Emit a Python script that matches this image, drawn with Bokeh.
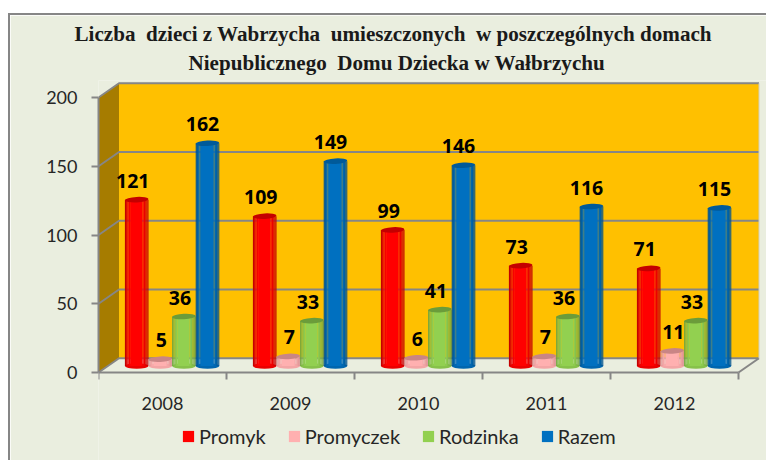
from bokeh.plotting import figure
from bokeh.embed import file_html
from bokeh.resources import INLINE
from bokeh.models import FixedTicker, Legend, LegendItem, Title
from bokeh.core.properties import value

years = ["2008", "2009", "2010", "2011", "2012"]
series_names = ["Promyk", "Promyczek", "Rodzinka", "Razem"]
promyk = [121, 109, 99, 73, 71]
promyczek = [5, 7, 6, 7, 11]
rodzinka = [36, 33, 41, 36, 33]
razem = [162, 149, 146, 116, 115]
y_ticks = [0, 50, 100, 150, 200]
title_lines = ["Liczba \u00a0dzieci z Wabrzycha \u00a0umieszczonych \u00a0w poszczególnych domach",
               "Niepublicznego \u00a0Domu Dziecka w Wałbrzychu"]

BG = "#EAEEDF"
GRAY = "#868686"
WALL = "#FFC000"
SIDE = "#A67C00"
body = ["#FF0000", "#FFB0B0", "#92D050", "#0070C0"]
edge = ["#B80000", "#D89090", "#6E9E3C", "#004F88"]
cap = ["#C40000", "#C98585", "#6B9C3A", "#005A9A"]
lab_shift = [-4, 1, -4, -5]

PX_X = 128.0     # pixels per category
PX_Y = 1.375     # pixels per unit
FRAME_W = 670
FRAME_H = 382
BELOW = 90 / PX_Y  # room under the zero line, kept inside the frame
DX = 20.5 / PX_X   # depth of the 3D box
DY = 14.2 / PX_Y
BASE = 4.7       # cylinders stand mid-floor
START = 26.4 / PX_X
BW = 23.6 / PX_X
CAP_H = 5.5 / PX_Y

p = figure(width=758, height=447, output_backend="svg", toolbar_location=None,
           x_range=(0, FRAME_W / PX_X), y_range=(-BELOW, FRAME_H / PX_Y - BELOW),
           min_border_left=88, min_border_right=0, min_border_top=65, min_border_bottom=0,
           background_fill_color=BG, border_fill_color=BG, outline_line_color=None,
           margin=(13, 0, 0, 8), title=None,
           styles={"border-top": f"2px solid {GRAY}", "border-left": f"2px solid {GRAY}"})
p.grid.visible = False

for line, off, st in zip(reversed(title_lines), [90, -24], [11, -4]):
    t = Title(text=line, align="left", offset=off, text_font="Liberation Serif",
              text_font_size="21.1px", text_font_style="bold", text_color="#1a1a1a",
              standoff=st)
    p.add_layout(t, "above")

# x axis: year labels at category centres, ticks at the boundaries
p.xaxis.fixed_location = 0
p.xaxis.ticker = FixedTicker(ticks=[i + 0.5 for i in range(len(years))],
                             minor_ticks=list(range(len(years) + 1)))
p.xaxis.major_label_overrides = {i + 0.5: y for i, y in enumerate(years)}
p.xaxis.major_tick_line_color = None
p.xaxis.major_tick_out = 0
p.xaxis.major_tick_in = 0
p.xaxis.minor_tick_out = 7
p.xaxis.minor_tick_in = 0
p.xaxis.minor_tick_line_color = GRAY
p.xaxis.minor_tick_line_width = 2
p.xaxis.axis_line_color = GRAY
p.xaxis.axis_line_width = 2
p.xaxis.major_label_standoff = 17
p.xaxis.major_label_text_font = "Lato"
p.xaxis.major_label_text_font_size = "18px"
p.xaxis.major_label_text_color = "#262626"
p.xaxis.bounds = (0, len(years))

p.yaxis.ticker = FixedTicker(ticks=y_ticks)
p.yaxis.minor_tick_line_color = None
p.yaxis.major_tick_in = 0
p.yaxis.major_tick_out = 7
p.yaxis.major_tick_line_color = GRAY
p.yaxis.major_tick_line_width = 2
p.yaxis.axis_line_color = GRAY
p.yaxis.axis_line_width = 2
p.yaxis.major_label_standoff = 14
p.yaxis.major_label_text_font = "Lato"
p.yaxis.major_label_text_font_size = "18px"
p.yaxis.major_label_text_color = "#262626"
p.yaxis.bounds = (0, 200)

# 3D box
n = len(years)
xr = n + DX
top = max(y_ticks)
p.quad(left=DX, right=xr, bottom=DY, top=top + DY, fill_color=WALL, line_color=None)
p.patch([0, DX, DX, 0], [0, DY, top + DY, top], fill_color=SIDE, line_color=None)
p.patch([0, DX, xr, n], [0, DY, DY, 0], fill_color=BG, line_color=None)
gx = [[0, DX, xr] for _ in y_ticks]
gy = [[v, v + DY, v + DY] for v in y_ticks]
p.multi_line(gx, gy, line_color=GRAY, line_width=2)
p.line([n, xr], [0, DY], line_color=GRAY, line_width=2)
p.line([xr, xr], [DY, top + DY], line_color="#CFCFC0", line_width=1)


def mix(a, b, t):
    ca = [int(a[i:i + 2], 16) for i in (1, 3, 5)]
    cb = [int(b[i:i + 2], 16) for i in (1, 3, 5)]
    return "#%02X%02X%02X" % tuple(round(x + (y - x) * t) for x, y in zip(ca, cb))


# strips across one cylinder: (from, to, darkness)
strips = [(0, .05, .85), (.05, .10, .55), (.10, .16, .3), (.16, .22, .12), (.22, .74, 0),
          (.74, .80, .12), (.80, .86, .3), (.86, .91, .5), (.91, .96, .7), (.96, 1, .9)]

all_series = [promyk, promyczek, rodzinka, razem]
legend_items = []
for s, vals in enumerate(all_series):
    lefts = [i + START + s * BW for i in range(n)]
    centers = [l + BW / 2 for l in lefts]
    tops = [BASE + v for v in vals]
    p.ellipse(centers, [BASE] * n, width=BW, height=CAP_H, fill_color=mix(body[s], edge[s], .3), line_color=None)
    main = None
    for a, b, d in strips:
        r = p.quad(left=[l + a * BW for l in lefts], right=[l + b * BW for l in lefts],
                   bottom=[BASE] * n, top=tops, fill_color=mix(body[s], edge[s], d),
                   line_color=None)
        if d == 0:
            main = r
    p.ellipse(centers, tops, width=BW, height=CAP_H, angle=0.05, fill_color=cap[s], line_color=None)
    legend_items.append(LegendItem(label=series_names[s], renderers=[main]))

for s, vals in enumerate(all_series):
    centers = [i + START + (s + .5) * BW for i in range(n)]
    p.text(centers, [BASE + v for v in vals], text=[str(v) for v in vals],
           text_font=value("Open Sans"), text_font_style="bold", text_font_size="19.5px",
           text_color="#000000", text_align="center", text_baseline="middle",
           x_offset=lab_shift[s], y_offset=-19)

legend = Legend(items=legend_items, orientation="horizontal", location=(83, 14),
                background_fill_alpha=0, border_line_color=None,
                label_text_font="Lato", label_text_font_size="20px", label_text_color="#262626",
                glyph_width=14, glyph_height=14, spacing=21, label_standoff=4,
                padding=0, margin=0)
p.add_layout(legend, "center")

open("out.html", "w").write(file_html(p, INLINE))
